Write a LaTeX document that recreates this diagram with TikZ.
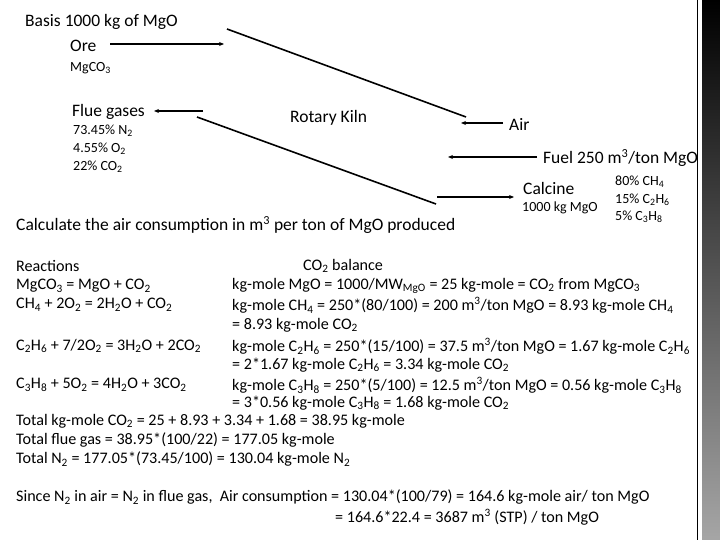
\documentclass[tikz,border=0pt]{standalone}
\usepackage{fontspec}
\setmainfont{Carlito}
\usetikzlibrary{arrows.meta}
\newcommand{\sbs}[1]{\textsubscript{#1}}
\newcommand{\sps}[1]{\textsuperscript{#1}}
\tikzset{
  lbl/.style={anchor=west,inner sep=0pt,font=\fontsize{17.5}{20}\selectfont},
  txt/.style={anchor=west,inner sep=0pt,font=\fontsize{16.1}{19}\selectfont},
  sml/.style={anchor=west,inner sep=0pt,font=\fontsize{14}{16}\selectfont},
  flow/.style={line width=1.6pt,-{Stealth[length=5pt,width=4pt]}},
  wall/.style={line width=1.6pt}
}
\begin{document}
\begin{tikzpicture}[x=1pt,y=-1pt]
\useasboundingbox (0,0) rectangle (720,540);
\fill[white] (0,0) rectangle (720,540);
\shade[top color=black,bottom color=gray!70] (702,0) rectangle (720,540);
\draw[line width=1pt] (697.5,0) -- (697.5,540);
% top
\node[lbl] (basis) at (25,22) {Basis 1000 kg of MgO};
\node[lbl] (ore) at (70,46) {Ore};
\node[sml] (mgco3) at (70,68) {MgCO\sbs{3}};
\coordinate (oreA) at (110,44);
\coordinate (oreB) at (224,44);
\draw[flow] (oreA) -- (oreB);
\coordinate (kt1) at (227,29);
\coordinate (kt2) at (466,117);
\draw[wall] (kt1) -- (kt2);
\coordinate (kb1) at (197,117);
\coordinate (kb2) at (436,204);
\draw[wall] (kb1) -- (kb2);
\node[lbl] (flue) at (72,112) {Flue gases};
\coordinate (flA) at (203,111);
\coordinate (flB) at (154,111);
\draw[flow] (flA) -- (flB);
\node[sml] (n2) at (73,131) {73.45\% N\sbs{2}};
\node[sml] (o2) at (73,149) {4.55\% O\sbs{2}};
\node[sml] (co2) at (73,167) {22\% CO\sbs{2}};
\node[lbl] (kiln) at (290,118) {Rotary Kiln};
\node[lbl] (air) at (509,124) {Air};
\coordinate (airA) at (503,123);
\coordinate (airB) at (461,123);
\draw[flow] (airA) -- (airB);
\node[lbl] (fuel) at (543,158) {Fuel 250 m\sps{3}/ton MgO};
\coordinate (fuA) at (537,157);
\coordinate (fuB) at (448,157);
\draw[flow] (fuA) -- (fuB);
\node[lbl] (calc) at (523,188) {Calcine};
\node[sml] (calm) at (522,208) {1000 kg MgO};
\coordinate (caA) at (437,197);
\coordinate (caB) at (514,197);
\draw[flow] (caA) -- (caB);
\node[sml] (f1) at (615,182) {80\% CH\sbs{4}};
\node[sml] (f2) at (615,200) {15\% C\sbs{2}H\sbs{6}};
\node[sml] (f3) at (615,217) {5\% C\sbs{3}H\sbs{8}};
\node[lbl] (q) at (16,225) {Calculate the air consumption in m\sps{3} per ton of MgO produced};
% lower text
\node[txt] (r0) at (16,266) {Reactions};
\node[txt] (r1) at (16,286) {MgCO\sbs{3} = MgO + CO\sbs{2}};
\node[txt] (r2) at (16,305) {CH\sbs{4} + 2O\sbs{2} = 2H\sbs{2}O + CO\sbs{2}};
\node[txt] (r3) at (16,346) {C\sbs{2}H\sbs{6} + 7/2O\sbs{2} = 3H\sbs{2}O + 2CO\sbs{2}};
\node[txt] (r4) at (16,385) {C\sbs{3}H\sbs{8} + 5O\sbs{2} = 4H\sbs{2}O + 3CO\sbs{2}};
\node[txt] (b0) at (303,266) {CO\sbs{2} balance};
\node[txt] (b1) at (232,286) {kg-mole MgO = 1000/MW\sbs{MgO} = 25 kg-mole = CO\sbs{2} from MgCO\sbs{3}};
\node[txt] (b2) at (232,305) {kg-mole CH\sbs{4} = 250*(80/100) = 200 m\sps{3}/ton MgO = 8.93 kg-mole CH\sbs{4}};
\node[txt] (b3) at (232,325) {= 8.93 kg-mole CO\sbs{2}};
\node[txt] (b4) at (232,346) {kg-mole C\sbs{2}H\sbs{6} = 250*(15/100) = 37.5 m\sps{3}/ton MgO = 1.67 kg-mole C\sbs{2}H\sbs{6}};
\node[txt] (b5) at (232,365) {= 2*1.67 kg-mole C\sbs{2}H\sbs{6} = 3.34 kg-mole CO\sbs{2}};
\node[txt] (b6) at (232,385) {kg-mole C\sbs{3}H\sbs{8} = 250*(5/100) = 12.5 m\sps{3}/ton MgO = 0.56 kg-mole C\sbs{3}H\sbs{8}};
\node[txt] (b7) at (232,403) {= 3*0.56 kg-mole C\sbs{3}H\sbs{8} = 1.68 kg-mole CO\sbs{2}};
\node[txt] (t1) at (16,421) {Total kg-mole CO\sbs{2} = 25 + 8.93 + 3.34 + 1.68 = 38.95 kg-mole};
\node[txt] (t2) at (16,440) {Total flue gas = 38.95*(100/22) = 177.05 kg-mole};
\node[txt] (t3) at (16,459) {Total N\sbs{2} = 177.05*(73.45/100) = 130.04 kg-mole N\sbs{2}};
\node[txt] (s1) at (16,497) {Since N\sbs{2} in air = N\sbs{2} in flue gas,\ \ Air consumption = 130.04*(100/79) = 164.6 kg-mole air/ ton MgO};
\node[txt] (s2) at (335,517) {= 164.6*22.4 = 3687 m\sps{3} (STP) / ton MgO};
\end{tikzpicture}
\end{document}
